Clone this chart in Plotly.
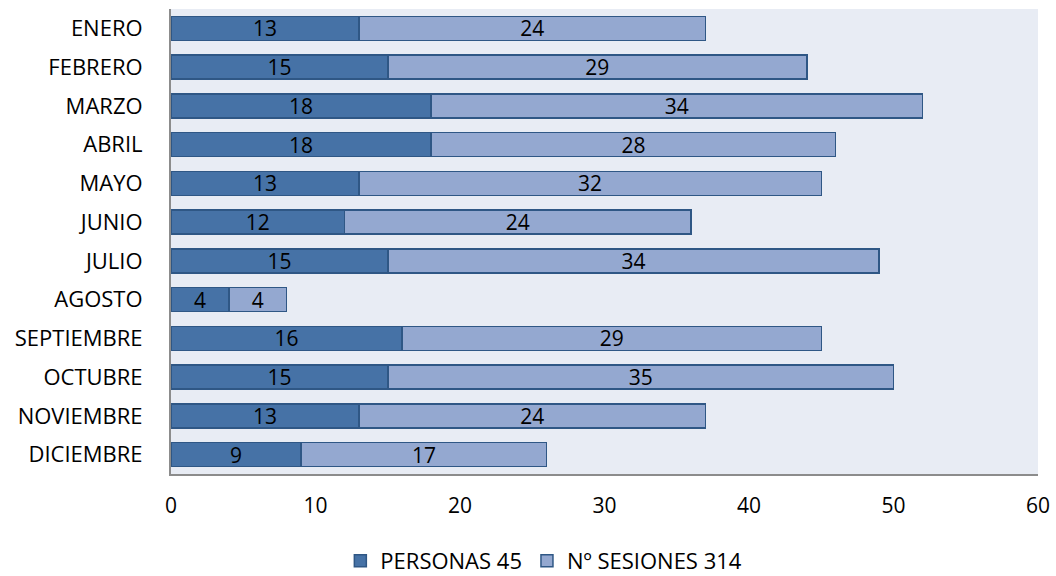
import plotly.graph_objects as go

months = ["ENERO", "FEBRERO", "MARZO", "ABRIL", "MAYO", "JUNIO", "JULIO", "AGOSTO",
          "SEPTIEMBRE", "OCTUBRE", "NOVIEMBRE", "DICIEMBRE"]
personas = [13, 15, 18, 18, 13, 12, 15, 4, 16, 15, 13, 9]
sesiones = [24, 29, 34, 28, 32, 24, 34, 4, 29, 35, 24, 17]
series_names = ["PERSONAS 45", "Nº SESIONES 314"]
x_ticks = [0, 10, 20, 30, 40, 50, 60]

font_family = "Open Sans, Liberation Sans, sans-serif"

fig = go.Figure()
fig.add_trace(go.Bar(
    y=months, x=personas, orientation="h", name=series_names[0],
    marker=dict(color="#4672A6", line=dict(color="#2F5785", width=1.5)),
    text=personas, textposition="inside", insidetextanchor="middle", textangle=0,
    constraintext="none",
    textfont=dict(color="black", size=21, family=font_family),
))
fig.add_trace(go.Bar(
    y=months, x=sesiones, orientation="h", name=series_names[1],
    marker=dict(color="#94A8D0", line=dict(color="#2F5785", width=1.5)),
    text=sesiones, textposition="inside", insidetextanchor="middle", textangle=0,
    constraintext="none",
    textfont=dict(color="black", size=21, family=font_family),
))

fig.update_layout(
    barmode="stack",
    bargap=0.38,
    width=1056, height=576,
    margin=dict(l=171, r=18, t=9, b=102, autoexpand=False),
    paper_bgcolor="white",
    plot_bgcolor="#E8ECF4",
    font=dict(family=font_family, size=21, color="black"),
    legend=dict(orientation="h", xref="container", x=0.515, xanchor="center",
                y=-0.142, yanchor="top", font=dict(size=22), traceorder="normal"),
    xaxis=dict(range=[0, 60], tickvals=x_ticks, showgrid=False, zeroline=False,
               showline=True, linecolor="#8C8C8C", linewidth=2, automargin=False,
               ticks="", ticklabelstandoff=12, tickfont=dict(size=21)),
    yaxis=dict(autorange="reversed", showgrid=False, showline=True, linecolor="#8C8C8C",
               linewidth=2, ticks="", ticklabelstandoff=22, automargin=False,
               tickfont=dict(size=22)),
)

fig.write_html("out.html", config={"displayModeBar": False},
               post_script="document.body.style.margin='0';document.body.style.overflow='hidden';")
